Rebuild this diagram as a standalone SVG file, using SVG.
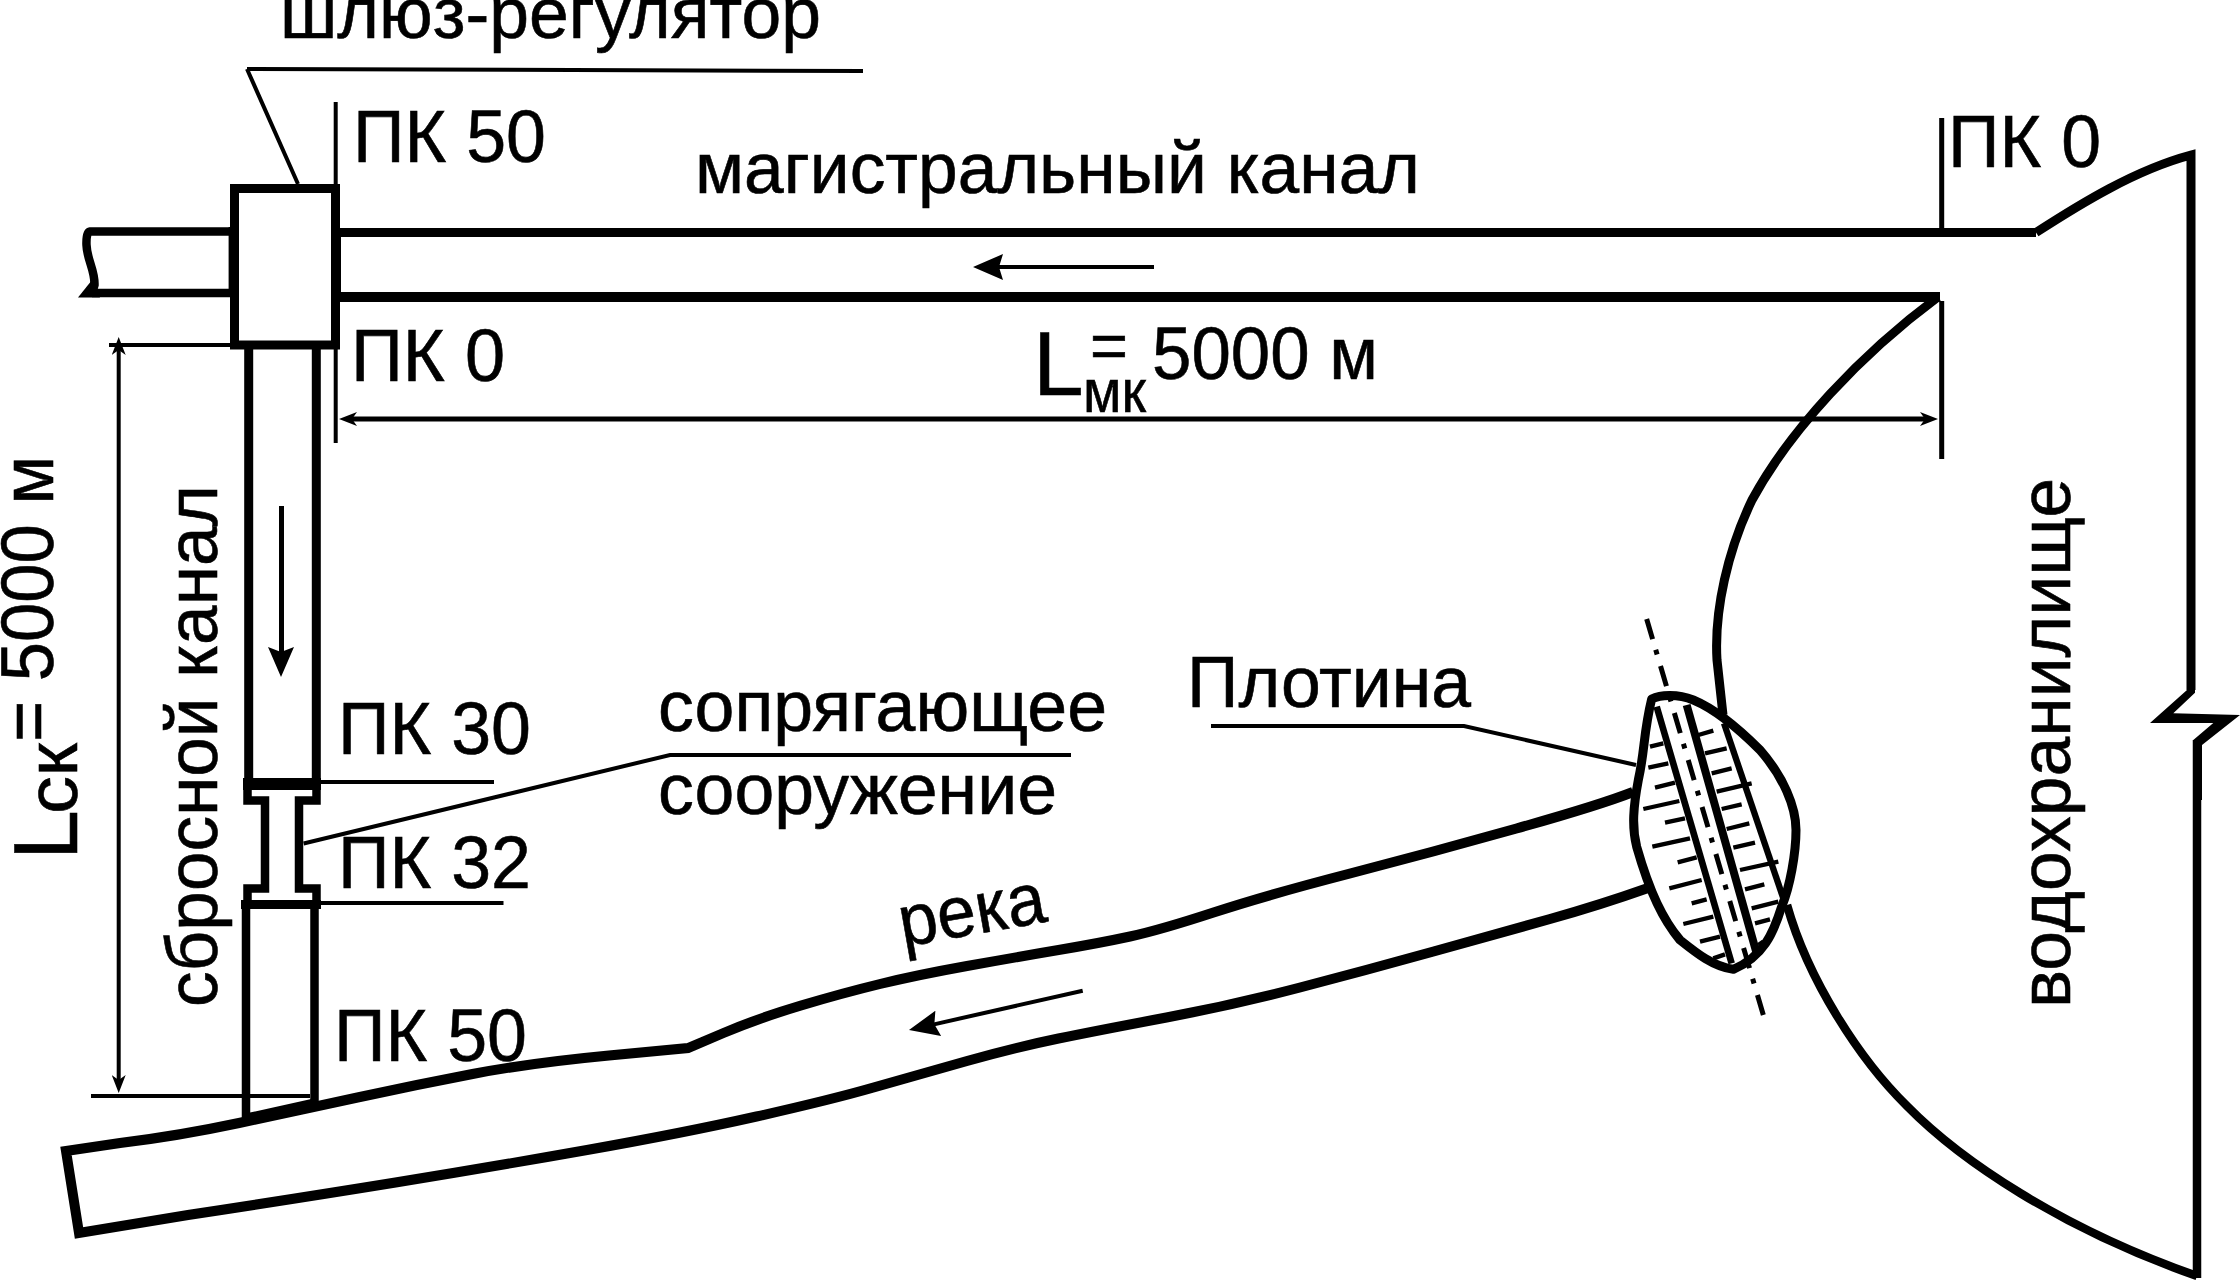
<svg xmlns="http://www.w3.org/2000/svg" width="2240" height="1283" viewBox="0 0 2240 1283">
<style>
text{font-family:"Liberation Sans",Arial,sans-serif;fill:#000;stroke:#000;stroke-width:.6;font-size:73px}
.p{font-size:75px}
.w{fill:none;stroke:#000;stroke-linejoin:round}
.m{fill:none;stroke:#000;stroke-linejoin:miter;stroke-miterlimit:10}
.t{fill:none;stroke:#000;stroke-width:4}
.k{fill:#000;stroke:none}
.box{fill:#fff;stroke:#000;stroke-width:9}
</style>
<defs>
<marker id="dim" markerUnits="userSpaceOnUse" markerWidth="18" markerHeight="14" viewBox="0 0 18 14" refX="10" refY="7" orient="auto-start-reverse"><path d="M18,7L0,0L5,7L0,14Z"/></marker>
<marker id="flow" markerUnits="userSpaceOnUse" markerWidth="30" markerHeight="26" viewBox="0 0 30 26" refX="10" refY="13" orient="auto"><path d="M30,13L0,0L4,13L0,26Z"/></marker>
</defs>
<rect width="2240" height="1283" fill="#fff"/>
<g id="river">
<path class="m" stroke-width="10" d="M1633,792Q1600,805 1516.500,828.500Q1433,852 1350,873.500Q1267,895 1213.500,912.500Q1160,930 1130,936.500Q1100,943 1058.500,950Q1017,957 967,966Q917,975 880,984Q843,993 801,1005.500Q759,1018 723.500,1033L688,1048L609,1055.500Q530,1063 472.500,1074Q415,1085 357.500,1097.500Q300,1110 239,1123Q178,1136 120,1143L66,1151L79,1233L188,1215Q300,1198 395.500,1182.500Q491,1167 587,1150Q683,1133 756.500,1116.500Q830,1100 873.500,1087.500Q917,1075 967,1061Q1017,1047 1058.500,1038.500Q1100,1030 1166.500,1017.500Q1233,1005 1300,987.500Q1367,970 1433.500,951.500Q1500,933 1550,919Q1600,905 1648,888"/>
</g>
<g id="main-canal">
<path class="w" stroke-width="9" d="M254,232.500H2036"/>
<path class="w" stroke-width="10" d="M254,297H1940"/>
</g>
<g id="left-canal">
<path class="m" stroke-width="8.500" d="M232,231.500H90Q86,232 86.500,245C87,260 95,270 94.500,285L92,293M232,293H92"/>
<polygon class="k" points="78,297.500 92,280 100,297.500"/>
</g>
<g id="reservoir">
<path class="m" stroke-width="9" d="M2036,232.500C2080,204 2135,170 2191,155V690"/>
<polygon class="k" points="2187,690 2150,723 2213.300,723 2193.300,740 2193.300,800 2202,800 2202,745 2240,715 2173.300,713.300 2195,692.700 2195,690"/>
<path class="m" stroke-width="8.500" d="M2197,740V1278"/>
<path class="m" stroke-width="8.500" d="M2197,1276C2060,1228 1960,1160 1907,1106C1860,1060 1808,980 1787,905"/>
<path class="w" stroke-width="9" d="M1938,297C1860,355 1790,430 1752,500C1728,550 1714,610 1717,660L1723,715"/>
</g>
<g id="sluice">
<rect class="box" x="234.500" y="188.500" width="101" height="156.500"/>
<rect class="k" x="331" y="228" width="10" height="74"/>
<rect class="k" x="228.600" y="227" width="9" height="70"/>
</g>
<g id="spillway">
<path class="w" stroke-width="9" d="M248.700,349V779M316.300,349V779"/>
<rect class="k" x="243" y="778" width="78" height="12"/>
<path class="m" stroke-width="8.500" d="M247.500,785V800.500H265V888.500H247.500V905M316.500,785V800.500H299V888.500H316.500V905"/>
<rect class="k" x="241" y="900" width="80" height="9"/>
<path class="m" stroke-width="8.500" d="M246,905V1118M314.500,905V1102"/>
<path class="w" stroke-width="9" d="M246,1118L314.500,1103"/>
</g>
<g id="dam" transform="translate(1500,600) scale(.33333)">
<path class="w" stroke-width="27" d="M455,297C480,285 530,280 580,300C640,325 700,370 780,450C850,530 888,620 888,690C888,760 870,860 845,920C820,1000 790,1070 700,1108C640,1100 590,1060 540,1020C490,960 450,880 410,740C395,680 400,620 415,540C435,450 430,400 455,297Z"/>
<path class="w" stroke-width="20" d="M470,320L695,1090"/>
<path class="w" stroke-width="24" d="M560,315L770,1060"/>
<path class="w" stroke-width="19" d="M672,370L855,910"/>
<path class="w" stroke-width="13" d="M450,440L490,430M445,503L505,490M465,563L525,548M430,627L538,603M495,668L555,655M457,740L570,715M533,787L590,772M508,865L605,840M575,910L620,898M550,972L640,950M600,1025L660,1010M640,1075L675,1063M595,405L640,392M615,460L680,445M635,520L695,505M650,575L755,550M665,627L725,613M680,687L748,670M700,743L765,728M720,810L835,785M735,868L793,853M755,925L835,905M765,970L810,958M775,1035L790,1025"/>
<path fill="none" stroke="#000" stroke-width="15" stroke-dasharray="63 33 15 36" d="M440,57L790,1245"/>
</g>
<g id="connectors">
<path class="t" d="M247,69L863,71M247,69L298,184"/>
<path class="t" d="M335.700,102V184M335.700,349V443"/>
<path class="t" style="stroke-width:5" d="M1941.700,118V232M1941.700,301V459"/>
<path class="t" style="stroke-width:5" d="M347,419H1930" marker-start="url(#dim)" marker-end="url(#dim)"/>
<path class="t" d="M118.700,345V1085" marker-start="url(#dim)" marker-end="url(#dim)"/>
<path class="t" d="M109,345H230M91,1096H310"/>
<path class="t" d="M321,782H494M321,903H503.500"/>
<path class="t" d="M303.600,843.500L670,755H1071"/>
<path class="t" d="M1211,726H1464L1636,765"/>
<path class="t" d="M1154,267H993" marker-end="url(#flow)"/>
<path class="t" d="M1082.700,990.700L928.500,1025.600" marker-end="url(#flow)"/>
<path class="t" style="stroke-width:5" d="M281.500,506V652"/>
<polygon class="k" points="268,647 281,677 294,647 281,652"/>
</g>
<g id="labels">
<text x="280" y="38" textLength="541" lengthAdjust="spacingAndGlyphs">шлюз-регулятор</text>
<text class="p" x="353" y="162" textLength="193" lengthAdjust="spacingAndGlyphs">ПК 50</text>
<text x="695" y="193" textLength="725" lengthAdjust="spacingAndGlyphs">магистральный канал</text>
<text class="p" x="1948" y="167" textLength="153" lengthAdjust="spacingAndGlyphs">ПК 0</text>
<text class="p" x="351" y="381" textLength="154" lengthAdjust="spacingAndGlyphs">ПК 0</text>
<text x="1033" y="395" style="font-size:91px">L</text>
<text x="1083" y="411.700" style="font-size:61px" textLength="63" lengthAdjust="spacingAndGlyphs">мк</text>
<text x="1090" y="368" style="font-size:65px">=</text>
<text class="p" x="1152" y="379" textLength="226" lengthAdjust="spacingAndGlyphs">5000 м</text>
<text transform="translate(77,860) rotate(-90)" style="font-size:90px">L</text>
<text transform="translate(77,814) rotate(-90)" textLength="71" lengthAdjust="spacingAndGlyphs">ск</text>
<text class="p" transform="translate(53,742) rotate(-90)" textLength="286" lengthAdjust="spacingAndGlyphs">= 5000 м</text>
<text transform="translate(217,1007) rotate(-90)" textLength="522" lengthAdjust="spacingAndGlyphs">сбросной канал</text>
<text transform="translate(2070,1008) rotate(-90)" textLength="530" lengthAdjust="spacingAndGlyphs">водохранилище</text>
<text class="p" x="338" y="754" textLength="193" lengthAdjust="spacingAndGlyphs">ПК 30</text>
<text class="p" x="338" y="888" textLength="193" lengthAdjust="spacingAndGlyphs">ПК 32</text>
<text class="p" x="334" y="1061" textLength="193" lengthAdjust="spacingAndGlyphs">ПК 50</text>
<text x="658" y="731" textLength="449" lengthAdjust="spacingAndGlyphs">сопрягающее</text>
<text x="658" y="814" textLength="399" lengthAdjust="spacingAndGlyphs">сооружение</text>
<text x="1187" y="707" textLength="284" lengthAdjust="spacingAndGlyphs">Плотина</text>
<text transform="translate(903,947) rotate(-10)" textLength="148" lengthAdjust="spacingAndGlyphs">река</text>
</g>
</svg>
